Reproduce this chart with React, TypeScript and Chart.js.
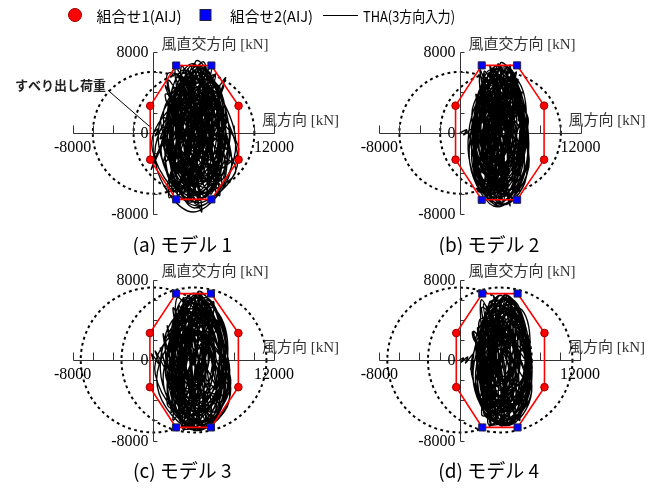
import React, { useEffect, useRef } from 'react';
import { Chart, registerables } from 'chart.js';
Chart.register(...registerables);

type Pt = [number, number];

// ---- axes ----
const X_MIN = -8000;
const X_MAX = 12000;
const Y_MIN = -8000;
const Y_MAX = 8000;
const TICK_STEP = 2000;
const xTickLabels = [-8000, 12000];
const yTickLabels = [8000, 0, -8000];

// ---- texts ----
const legendLabels = ['組合せ1(AIJ)', '組合せ2(AIJ)', 'THA(3方向入力)'];
const captions = ['(a) モデル 1', '(b) モデル 2', '(c) モデル 3', '(d) モデル 4'];
const xTitle = '風方向 [kN]';
const yTitle = '風直交方向 [kN]';
const slipText = 'すべり出し荷重';

// ---- slip-load circles (centre x on wind axis, radius) [kN] ----
const slipCentersTop = [0, 4050];
const slipRadiusTop = 6000;
const slipCentersBottom = [0, 4050];
const slipRadiusBottom = 7200;
// leader of the slip-load note (panel a): [start, end] in kN
const slipLeader: Pt[] = [[-4500, 4200], [-150, 450]];

// ---- 組合せ1 (AIJ): right-top, right-bottom, left-bottom, left-top ----
const comb1A: Pt[] = [[8480, 2660], [8480, -2640], [-300, -2640], [-300, 2660]];
const comb1B: Pt[] = [[8380, 2680], [8380, -2640], [-420, -2640], [-420, 2680]];
const comb1C: Pt[] = [[8460, 2680], [8460, -2700], [-330, -2700], [-330, 2680]];
const comb1D: Pt[] = [[8460, 2680], [8460, -2700], [-330, -2700], [-330, 2680]];
// ---- 組合せ2 (AIJ): top-left, top-right, bottom-right, bottom-left ----
const comb2A: Pt[] = [[2280, 6640], [5780, 6640], [5780, -6560], [2280, -6560]];
const comb2B: Pt[] = [[2180, 6650], [5700, 6650], [5700, -6600], [2180, -6600]];
const comb2C: Pt[] = [[2260, 6600], [5740, 6600], [5740, -6700], [2260, -6700]];
const comb2D: Pt[] = [[2260, 6600], [5780, 6600], [5780, -6700], [2260, -6700]];

// ---- THA (3方向入力) trajectories [kN] ----
const thaA: Pt[] = [
  [0, 0], [500, 400], [200, -300], [1100, 600], [700, -600], [2000, 900], [1500, -1200], [3000, 1800],
  [2200, -2500], [4200, 3000], [3100, -3600], [5200, 4200], [3800, -4800], [6000, 5000], [2600, -5200],
  [5400, 6100], [1800, -4600], [6500, 3800], [1000, -3000], [5800, 6500], [2400, -6200], [7000, 2600],
  [3200, -5800], [4600, 6800], [5200, -6400], [1500, 5200], [6800, -4200], [2100, 5900], [7600, -1800],
  [1200, 3800], [6200, -5600], [3400, 6300], [4400, -7000], [800, 1500], [7200, -3400], [2800, 5600],
  [5600, -5200], [1600, -2200], [6600, 4600], [3600, -6600], [4800, 5800], [-200, -3600], [5000, 7000],
  [4200, -5400], [2000, 4400], [8500, -1600], [3000, -4400], [5400, 5000], [1400, -5800], [7400, 1200],
  [2600, -3200], [4600, 6200], [5800, -6000], [1800, 2800], [7800, -2800], [3800, 4800], [4800, -7800],
  [2200, 6400], [6400, -4800], [1000, -1200], [6000, 3200], [3400, -6800], [5200, 6600], [2800, -4800],
  [7000, 4600], [1600, -6400], [4400, 5400], [5600, -3600], [2400, 3400], [8200, -3600], [3600, -5600],
  [3000, 6000], [6600, -6200], [1200, 4600], [5400, -1600], [4000, 6800], [2000, -5800], [7200, 5400],
  [3200, -2400], [4600, -6200], [2600, 2200], [6800, -5200], [3800, 5600], [5000, -4200], [1400, 5800],
  [7600, 600], [4200, -6600], [2800, 6600], [5800, -2200], [3400, 3800], [4000, -5000], [4800, 4200],
  [2200, -4000], [6200, 5800], [3000, -6000], [5600, 2000], [1800, -2800], [7000, -4400], [4400, 6000],
  [3600, -1800], [4200, 1000],
  [4200, 2000], [5200, 200], [3800, -1800], [2800, 0],
  [4400, 3800], [6000, -400], [3600, -3600], [2200, 600],
  [3800, 5600], [6600, 1200], [4600, -5200], [1600, -800],
  [4600, 6400], [7200, -1000], [3400, -6200], [1000, 1800],
  [3200, 5000], [1400, -1600], [4800, -5800], [6800, 800],
  [4000, 6800], [1800, 2400], [3000, -4400], [6200, -2400],
  [5400, 4800], [2600, 1000], [4200, -6600], [7600, -1800],
  [3600, 3000], [5000, -1200], [3200, -3000], [2400, 1400],
  [4800, 5800], [7000, 2000], [5200, -4600], [2000, -2400],
  [2800, 4600], [6400, 3600], [5600, -5600], [1400, -3800],
  [3000, 6200], [7800, -2600], [4000, -7800], [200, -2800],
  [2400, 2800], [4600, 1800], [4400, -2200], [3000, -1000],
  [5000, 4000], [6600, -2800], [3800, -5000], [1200, 400],
  [4200, 6000], [5800, 2200], [5000, -3800], [2600, -5400], [800, -1200],
  [3600, 4200], [6000, 5200], [7200, 600], [5400, -6200], [2200, -4200],
  [1800, 3600], [4400, 5200], [6800, -3400], [3600, -6800], [1600, -2000],
  [3400, 1600], [5200, 2600], [4800, -1600], [2800, -2400],
  [3800, 6600], [8200, -800], [4600, -7200], [-100, -1600],
  [2600, 3400], [5600, 4400], [6200, -1200], [4200, -4600], [2000, -1000],
  [3200, 4400], [4800, 3000], [5600, -2000], [3400, -3600], [1800, 400],
  [4400, 6600], [7400, 1400], [6400, -5000], [3000, -6000], [1200, -3200],
  [2200, 1200], [3600, 5400], [6200, 3000], [5800, -4200], [2600, -3200],
  [3800, 2400], [5400, 800], [4000, -2800], [2400, -200],
  [5000, 6400], [7000, -200], [4400, -6000], [1600, 1200],
  [3000, 3800], [4800, 1400], [3800, -4200], [2200, -2800],
  [4600, 4600], [8400, -2600], [5000, -6800], [2000, -5000], [600, 800],
  [3800, 5000], [6600, 2600], [6000, -3000], [3200, -5200], [1400, -400],
  [2800, 2000], [4400, 3400], [5200, -600], [3600, -2000],
  [4200, 7000], [6200, 4400], [7200, -4200], [4200, -7400], [2400, -4800], [1800, 2200],
  [3400, 5800], [5400, 5400], [6600, -600], [4800, -3400], [2800, -4000], [1000, -800],
  [3000, 2800], [5000, 3600], [5800, 1000], [4600, -4400], [3200, -6400], [1800, -3000],
  [2600, 4800], [4000, 4000], [4200, 1200],
];
const thaB: Pt[] = [
  [0, 0], [700, 300], [400, -200], [1200, 400], [900, -500], [1800, 800], [1500, -1400], [2600, 2400],
  [2000, -3000], [3600, 3800], [2800, -4400], [4600, 5000], [3400, -5600], [5400, 5800], [2400, -6000],
  [4200, 6400], [3000, -6600], [5000, 6700], [4200, -7000], [2000, 5600], [5800, -5200], [1800, -3800],
  [5600, 4200], [2600, -6400], [4800, 6200], [3600, -5200], [6200, 2600], [2200, -2400], [5200, 5600],
  [3200, -6800], [4000, 6600], [5400, -4800], [1600, 3800], [6000, -3000], [2800, 5800], [4400, -6200],
  [3000, 4400], [5000, -7200], [2400, 6000], [5800, -1400], [1400, 1600], [4600, -5800], [3400, 6200],
  [6700, 800], [2000, -4800], [5400, 4800], [3800, -6600], [2600, 2800], [6000, -4200], [3000, 6600],
  [4800, -3600], [1800, -5600], [5600, 6000], [3400, -4200], [6800, 1400], [2200, 4800], [4400, -6800],
  [3600, 5400], [5200, -6000], [1600, -1600], [4800, 6400], [2800, -5800], [6200, 4000], [3200, -3000],
  [4000, 5000], [5400, -6600], [2000, 2000], [4600, -4600], [3800, 6800], [2600, -6200], [5800, 5200],
  [3000, -1000], [4200, -6400], [2400, 4400], [6400, -2400], [3600, 3200], [4800, -5200], [2000, 6200],
  [5000, -2000], [3200, 5600], [4400, -3200], [2400, -5200], [5600, 3400], [3000, -6400], [4200, 6000],
  [3800, 1800], [4100, -800],
  [3800, 2200], [4800, 0], [3600, -2000], [2600, 200],
  [4000, 4000], [5600, -600], [3400, -3800], [2000, 800],
  [3600, 5800], [6000, 1400], [4400, -5400], [1600, -1000],
  [4400, 6400], [6600, -1200], [3200, -6400], [1200, 1800],
  [3000, 5200], [1600, -1800], [4600, -6000], [6400, 600],
  [3800, 6600], [2000, 2600], [2800, -4600], [5800, -2600],
  [5000, 5000], [2600, 800], [4000, -6800], [6800, -1600],
  [3400, 3200], [4800, -1200], [3000, -3200], [2200, 1600],
  [4600, 6000], [6400, 2200], [4800, -4800], [1800, -2600],
  [2600, 4600], [6000, 3800], [5200, -5800], [1600, -4000],
  [3000, 6200], [6900, -2600], [3800, -7300], [1000, -3000],
  [2400, 3000], [4400, 1800], [4200, -2400], [2800, -1000],
  [4800, 4200], [6200, -2800], [3600, -5200], [1400, 400],
  [4000, 6200], [5600, 2400], [4800, -4000], [2400, -5600], [1200, -1400],
  [3400, 4400], [5600, 5400], [6600, 800], [5000, -6400], [2000, -4400],
  [1800, 3800], [4200, 5400], [6400, -3600], [3400, -7000], [1600, -2200],
  [3200, 1800], [5000, 2800], [4600, -1800], [2600, -2600],
  [3600, 6600], [6800, -800], [4400, -7000], [1200, -1800],
  [2400, 3600], [5400, 4600], [5800, -1400], [4000, -4800], [1800, -1200],
  [3000, 4600], [4600, 3200], [5400, -2200], [3200, -3800], [1600, 600],
  [4200, 6600], [6600, 1800], [6000, -5200], [2800, -6200], [1400, -3400],
  [2000, 1400], [3400, 5600], [5800, 3200], [5400, -4400], [2400, -3400],
  [3600, 2600], [5200, 1000], [3800, -3000], [2200, -400],
  [4800, 6400], [6400, -200], [4200, -6200], [1600, 1400],
  [2800, 4000], [4600, 1600], [3600, -4400], [2000, -3000],
  [4400, 4800], [6800, -2800], [4800, -7000], [1800, -5200], [1000, 800],
  [3600, 5200], [6200, 2800], [5600, -3200], [3000, -5400], [1400, -600],
  [2600, 2200], [4200, 3600], [5000, -800], [3400, -2200],
  [4000, 6800], [5800, 4600], [6600, -4400], [4000, -7200], [2200, -5000], [1600, 2400],
  [3200, 6000], [5200, 5600], [6200, -800], [4600, -3600], [2600, -4200], [1200, -1000],
  [2800, 3000], [4800, 3800], [5400, 1200], [4400, -4600], [3000, -6600], [1600, -3200],
  [2400, 5000], [3800, 4200], [4000, 1000],
];
const thaC: Pt[] = [
  [0, 0], [-150, 600], [600, -400], [200, 900], [1200, -800], [700, 1200], [1600, -1600], [1000, 2600],
  [2400, -2800], [1400, 3400], [3200, -4200], [2200, 5000], [4200, -5400], [3000, 6200], [5200, -6200],
  [2400, -4000], [4800, 6600], [3600, -6800], [5800, 4800], [1800, -5200], [4400, 6700], [6200, -3800],
  [2000, 3600], [5400, -6400], [3000, 5800], [7200, -1200], [2600, -6000], [5000, 5600], [4000, -6600],
  [1600, 1800], [6600, -3000], [3400, 6400], [4600, -5800], [2200, -2000], [5600, 4000], [3000, -7000],
  [4200, 5200], [7600, -2600], [2800, 4400], [5200, -4800], [1800, -3400], [6000, 5800], [3600, -5000],
  [2400, 6200], [6800, -1800], [4000, 4600], [3200, -6400], [5400, 6000], [1400, -4400], [7300, -3800],
  [3800, -2200], [2600, 5400], [5800, -6600], [4400, 2800], [2000, -6000], [6400, 3400], [3000, -3600],
  [4800, 6500], [4200, -6900], [2200, 4000], [7000, -400], [3400, -5400], [5600, 5200], [1600, -1200],
  [6200, -5000], [3800, 6200], [2600, -4800], [5000, 3000], [4600, -6200], [3000, 2000], [6600, -4400],
  [2800, -6600], [4400, 5600], [5200, -2600], [3600, 4000], [4000, -4200], [2000, 5200], [5800, -5600],
  [2600, 1200], [6000, 4400], [3200, -5800], [4800, 1600], [3400, -1400], [4200, 400],
  [4000, 2200], [5000, 0], [4200, -2000], [3000, 200],
  [4600, 4200], [6200, -400], [3600, -3800], [2000, 800],
  [3600, 5800], [6800, 1000], [4800, -5400], [1800, -1000],
  [4400, 6600], [7200, -1400], [3200, -6400], [1200, 2200],
  [3400, 5200], [1600, -2000], [5000, -6000], [7000, 600],
  [4200, 6600], [2000, 2800], [2800, -4600], [6400, -2200],
  [5400, 5000], [2800, 1200], [4400, -6800], [7700, -2000],
  [3800, 3200], [5200, -1000], [3400, -3200], [2600, 1400],
  [5000, 5800], [7200, 2200], [5400, -4800], [2200, -2600],
  [2800, 4800], [6600, 3400], [5800, -5800], [1600, -3800],
  [3200, 6200], [7600, -3400], [4200, -7000], [400, -2600],
  [2600, 2800], [4800, 1800], [4600, -2400], [3200, -1200],
  [5200, 4000], [6800, -2600], [4000, -5200], [1400, 600],
  [4400, 6200], [6000, 2400], [5200, -4000], [2800, -5600], [1000, -1400],
  [3800, 4400], [6200, 5000], [7400, 400], [5600, -6400], [2400, -4400],
  [2000, 3800], [4600, 5400], [7000, -3800], [3800, -6800], [1800, -2200],
  [3600, 1800], [5400, 2800], [5000, -1800], [3000, -2600],
  [4000, 6400], [7600, -1000], [4800, -6900], [200, -1400],
  [2800, 3600], [5800, 4400], [6400, -1400], [4400, -4800], [2200, -1200],
  [3400, 4600], [5000, 3200], [5800, -2200], [3600, -3800], [2000, 400],
  [4600, 6600], [7200, 1600], [6600, -5000], [3200, -6200], [1400, -3400],
  [2400, 1400], [3800, 5600], [6400, 3000], [6000, -4200], [2800, -3400],
  [4000, 2600], [5600, 800], [4200, -3000], [2600, -200],
  [5200, 6200], [7400, -200], [4600, -6200], [1800, 1400],
  [3200, 4000], [5000, 1600], [4000, -4400], [2400, -3000],
  [4800, 4800], [7700, -2800], [5200, -6600], [2200, -5200], [800, 600],
  [4000, 5200], [6800, 2600], [6200, -3200], [3400, -5400], [1600, -600],
  [3000, 2200], [4600, 3600], [5400, -800], [3800, -2200],
  [4400, 6700], [6400, 4200], [7000, -4000], [4400, -7000], [2600, -5000], [2000, 2400],
  [3600, 6000], [5600, 5400], [6800, -800], [5000, -3600], [3000, -4200], [1200, -1000],
  [3200, 3000], [5200, 3800], [6000, 1000], [4800, -4600], [3400, -6600], [2000, -3200],
  [2800, 5000], [4200, 4200], [4400, 1000],
];
const thaD: Pt[] = [
  [0, 0], [400, 200], [200, -200], [800, 300], [600, -300], [1400, 600], [1100, -900], [2000, 1800],
  [1400, 2800], [2600, -2400], [1800, 3200], [3600, -3800], [2600, 4600], [4600, -5000], [3200, 5800],
  [5400, -5800], [2400, -5200], [4400, 6200], [3800, -6400], [6000, 4200], [2000, -4200], [5200, 6000],
  [3000, -6200], [6600, -1800], [2200, 5200], [5600, -5600], [3400, 6400], [4800, -4600], [1800, 1600],
  [6200, 3200], [3200, -6500], [4200, 5400], [5800, -3600], [2400, -3000], [5000, 6200], [3800, -5600],
  [2600, 3800], [7000, -2800], [3000, 5800], [4400, -6400], [1600, -2200], [5800, 5000], [3600, -4600],
  [2200, 6000], [6400, -4800], [4000, 3200], [2800, -5800], [5400, 4600], [4600, -6200], [2000, 4000],
  [7100, -600], [3200, -3400], [4800, 6400], [5400, -5000], [2400, 2400], [6000, -6000], [3400, 5000],
  [3000, -4800], [6600, 2400], [2800, -1800], [4200, -6300], [3600, 6000], [5600, -2400], [2200, -5400],
  [5000, 4000], [4400, -3800], [3200, 4800], [4800, -5400], [2400, 5600], [6200, -4200], [2800, -6200],
  [5600, 5600], [3000, 1000], [5000, -6400], [3800, 2200], [3600, -2600], [4200, 800],
  [1600, 1800], [1300, 2800], [2000, 1600],
  [4200, 2000], [5200, 0], [4000, -1800], [3000, 200],
  [4400, 3800], [6000, -600], [3800, -3600], [2400, 600],
  [4000, 5400], [6600, 1000], [4800, -5000], [2000, -1000],
  [4600, 6200], [7000, -1200], [3600, -6000], [1600, 1800],
  [3400, 5000], [2000, -1800], [5000, -5800], [6800, 600],
  [4200, 6400], [2200, 2600], [3200, -4400], [6400, -2400],
  [5400, 4800], [3000, 1000], [4400, -6400], [7200, -1800],
  [3800, 3000], [5200, -1200], [3600, -3000], [2800, 1400],
  [5000, 5600], [6800, 2000], [5400, -4600], [2400, -2400],
  [3000, 4600], [6400, 3400], [5800, -5400], [2000, -3600],
  [3400, 6000], [7200, -2600], [4200, -6500], [1400, -2400],
  [2800, 2800], [4800, 1800], [4800, -2200], [3400, -1000],
  [5200, 4000], [6800, -2600], [4200, -5000], [1800, 400],
  [4400, 6000], [6000, 2200], [5200, -3800], [3000, -5400], [1600, -1200],
  [3800, 4200], [6200, 5000], [7000, 600], [5600, -6200], [2600, -4200],
  [2200, 3600], [4600, 5200], [6800, -3400], [4000, -6400], [2000, -2000],
  [3600, 1600], [5400, 2600], [5000, -1600], [3200, -2400],
  [4000, 6400], [7200, -800], [4800, -6400], [1200, -1400],
  [3000, 3400], [5800, 4400], [6400, -1200], [4400, -4600], [2400, -1000],
  [3400, 4400], [5000, 3000], [5800, -2000], [3800, -3600], [2200, 400],
  [4600, 6400], [7000, 1400], [6400, -4800], [3400, -6000], [1800, -3200],
  [2600, 1200], [3800, 5400], [6400, 2800], [6000, -4000], [3000, -3200],
  [4000, 2400], [5600, 800], [4200, -2800], [2800, -200],
  [5200, 6000], [7000, -200], [4600, -6000], [2000, 1200],
  [3200, 3800], [5000, 1400], [4000, -4200], [2600, -2800],
  [4800, 4600], [7200, -2600], [5200, -6400], [2400, -5000], [1400, 600],
  [4000, 5000], [6600, 2400], [6200, -3000], [3600, -5200], [2000, -400],
  [3000, 2000], [4600, 3400], [5400, -600], [3800, -2000],
  [4400, 6400], [6200, 4000], [6800, -3800], [4400, -6500], [2800, -4800], [2200, 2200],
  [3600, 5800], [5600, 5200], [6600, -600], [5000, -3400], [3200, -4000], [1800, -800],
  [3200, 2800], [5200, 3600], [5800, 1000], [4800, -4400], [3600, -6200], [2200, -3000],
  [3000, 4800], [4200, 4000], [4400, 800],
];

type PanelCfg = {
  key: string;
  caption: string;
  comb1: Pt[];
  comb2: Pt[];
  tha: Pt[];
  slipCenters: number[];
  slipRadius: number;
  showSlipNote: boolean;
  box: { left: number; top: number; width: number; height: number };
  pad: { left: number; right: number; top: number; bottom: number };
};

const panels: PanelCfg[] = [
  {
    key: 'a', caption: captions[0], comb1: comb1A, comb2: comb2A, tha: thaA,
    slipCenters: slipCentersTop, slipRadius: slipRadiusTop, showSlipNote: true,
    box: { left: 0, top: 30, width: 340, height: 225 },
    pad: { left: 72.7, right: 66, top: 21.7, bottom: 41 },
  },
  {
    key: 'b', caption: captions[1], comb1: comb1B, comb2: comb2B, tha: thaB,
    slipCenters: slipCentersTop, slipRadius: slipRadiusTop, showSlipNote: false,
    box: { left: 340, top: 30, width: 317, height: 225 },
    pad: { left: 39.3, right: 76.5, top: 21.7, bottom: 41 },
  },
  {
    key: 'c', caption: captions[2], comb1: comb1C, comb2: comb2C, tha: thaC,
    slipCenters: slipCentersBottom, slipRadius: slipRadiusBottom, showSlipNote: false,
    box: { left: 0, top: 255, width: 340, height: 235 },
    pad: { left: 72.7, right: 66, top: 24.5, bottom: 49.5 },
  },
  {
    key: 'd', caption: captions[3], comb1: comb1D, comb2: comb2D, tha: thaD,
    slipCenters: slipCentersBottom, slipRadius: slipRadiusBottom, showSlipNote: false,
    box: { left: 340, top: 255, width: 317, height: 235 },
    pad: { left: 39.3, right: 77, top: 24.5, bottom: 49.5 },
  },
];

const toXY = (pts: Pt[]) => pts.map(([x, y]) => ({ x, y }));

function octagon(c1: Pt[], c2: Pt[]): Pt[] {
  return [c2[0], c2[1], c1[0], c1[1], c2[2], c2[3], c1[2], c1[3], c2[0]];
}

const SERIF = '"Liberation Serif", "Times New Roman", "Noto Sans CJK JP", serif';
const GOTHIC = '"Noto Sans CJK JP", "Noto Sans", sans-serif';

function makePanelPlugin(p: PanelCfg) {
  return {
    id: 'panelDecor_' + p.key,
    beforeDatasetsDraw(chart: any) {
      const { ctx, chartArea } = chart;
      const xs = chart.scales.x;
      const ys = chart.scales.y;
      const px = (v: number) => xs.getPixelForValue(v);
      const py = (v: number) => ys.getPixelForValue(v);
      ctx.save();

      // slip-load circles
      ctx.strokeStyle = '#000';
      ctx.lineWidth = 2;
      ctx.setLineDash([2.8, 3.4]);
      for (const c of p.slipCenters) {
        const cx = px(c);
        const cy = py(0);
        const rx = Math.abs(px(c + p.slipRadius) - cx);
        const ry = Math.abs(py(p.slipRadius) - cy);
        ctx.beginPath();
        ctx.ellipse(cx, cy, rx, ry, 0, 0, Math.PI * 2);
        ctx.stroke();
      }
      ctx.setLineDash([]);

      // axes
      const x0 = Math.round(px(0)) + 0.5;
      const y0 = Math.round(py(0)) + 0.5;
      ctx.strokeStyle = '#333';
      ctx.lineWidth = 1;
      ctx.beginPath();
      ctx.moveTo(Math.round(px(X_MIN)) + 0.5, y0);
      ctx.lineTo(Math.round(px(X_MAX)) + 0.5, y0);
      for (let v = X_MIN; v <= X_MAX; v += TICK_STEP) {
        const tx = Math.round(px(v)) + 0.5;
        ctx.moveTo(tx, y0);
        ctx.lineTo(tx, y0 - 8);
      }
      ctx.moveTo(x0, Math.round(py(Y_MAX)) + 0.5);
      ctx.lineTo(x0, Math.round(py(Y_MIN)) + 0.5);
      for (let v = Y_MIN; v <= Y_MAX; v += TICK_STEP) {
        const ty = Math.round(py(v)) + 0.5;
        ctx.moveTo(x0, ty);
        ctx.lineTo(x0 + 4, ty);
      }
      ctx.stroke();

      // tick labels
      ctx.fillStyle = '#000';
      ctx.font = '16px ' + SERIF;
      ctx.textBaseline = 'middle';
      ctx.textAlign = 'right';
      for (const v of yTickLabels) ctx.fillText(String(v), x0 - 5, py(v) + 1);
      ctx.textAlign = 'center';
      for (const v of xTickLabels) ctx.fillText(String(v), px(v), y0 + 14);

      // axis titles
      ctx.fillStyle = '#333';
      ctx.font = '15px ' + SERIF;
      ctx.textAlign = 'left';
      ctx.fillText(yTitle, x0 + 8, chartArea.top - 7);
      ctx.fillText(xTitle, chartArea.right - 12, y0 - 12);

      // slip-load note
      if (p.showSlipNote) {
        const sx = px(slipLeader[0][0]);
        const sy = py(slipLeader[0][1]);
        ctx.strokeStyle = '#000';
        ctx.lineWidth = 1;
        ctx.beginPath();
        ctx.moveTo(sx, sy);
        ctx.lineTo(px(slipLeader[1][0]), py(slipLeader[1][1]));
        ctx.stroke();
        ctx.fillStyle = '#222';
        ctx.font = 'bold 13px ' + GOTHIC;
        ctx.textAlign = 'right';
        ctx.fillText(slipText, sx - 2, sy - 5);
      }
      ctx.restore();
    },
    afterDraw(chart: any) {
      const { ctx, chartArea } = chart;
      ctx.save();
      ctx.fillStyle = '#000';
      ctx.font = '19px ' + GOTHIC;
      ctx.textAlign = 'center';
      ctx.textBaseline = 'middle';
      ctx.fillText(p.caption, (chartArea.left + chartArea.right) / 2 + 9, chartArea.bottom + 30.5);
      ctx.restore();
    },
  };
}

function Panel({ p }: { p: PanelCfg }) {
  const ref = useRef<HTMLCanvasElement>(null);
  useEffect(() => {
    const chart = new Chart(ref.current!, {
      type: 'scatter',
      data: {
        datasets: [
          {
            label: legendLabels[1],
            data: toXY(p.comb2),
            pointStyle: 'rect',
            pointRadius: 5,
            backgroundColor: '#0000ff',
            borderColor: '#222244',
            borderWidth: 1,
            order: 0,
          },
          {
            label: legendLabels[0],
            data: toXY(p.comb1),
            pointStyle: 'circle',
            pointRadius: 3.8,
            backgroundColor: '#ff0000',
            borderColor: '#990000',
            borderWidth: 1,
            order: 1,
          },
          {
            label: 'envelope',
            data: toXY(octagon(p.comb1, p.comb2)),
            showLine: true,
            borderColor: '#ff0000',
            borderWidth: 1.6,
            pointRadius: 0,
            tension: 0,
            order: 2,
          },
          {
            label: legendLabels[2],
            data: toXY(p.tha),
            showLine: true,
            borderColor: '#000000',
            borderWidth: 1.35,
            pointRadius: 0,
            tension: 0.4,
            clip: false,
            order: 3,
          },
        ],
      } as any,
      options: {
        responsive: false,
        animation: false,
        events: [],
        layout: { padding: p.pad },
        plugins: { legend: { display: false }, tooltip: { enabled: false }, title: { display: false } },
        scales: {
          x: { type: 'linear', min: X_MIN, max: X_MAX, display: false },
          y: { type: 'linear', min: Y_MIN, max: Y_MAX, display: false },
        },
      },
      plugins: [makePanelPlugin(p)],
    });
    return () => chart.destroy();
  }, []);
  const b = p.box;
  return (
    <canvas
      ref={ref}
      width={b.width}
      height={b.height}
      style={{ position: 'absolute', left: b.left, top: b.top, width: b.width, height: b.height }}
    />
  );
}

// legend layout (pixels)
const legendMarkerX = [75, 205.5, 340.5];
const legendTextX = [96.5, 230, 363];
const legendTextW = [87, 83, 92];

const legendPlugin = {
  id: 'customLegend',
  afterDraw(chart: any) {
    const { ctx } = chart;
    const ds = chart.data.datasets;
    const cy = 15;
    ctx.save();
    ctx.beginPath();
    ctx.arc(legendMarkerX[0], cy, 6.5, 0, Math.PI * 2);
    ctx.fillStyle = ds[0].backgroundColor;
    ctx.fill();
    ctx.strokeStyle = ds[0].borderColor;
    ctx.lineWidth = 1;
    ctx.stroke();
    ctx.fillStyle = ds[1].backgroundColor;
    ctx.fillRect(legendMarkerX[1] - 5.5, cy - 5.5, 11, 11);
    ctx.strokeStyle = ds[1].borderColor;
    ctx.strokeRect(legendMarkerX[1] - 5.5, cy - 5.5, 11, 11);
    ctx.strokeStyle = ds[2].borderColor;
    ctx.beginPath();
    ctx.moveTo(legendMarkerX[2] - 17.5, cy + 0.5);
    ctx.lineTo(legendMarkerX[2] + 17.5, cy + 0.5);
    ctx.stroke();
    ctx.fillStyle = '#000';
    ctx.font = '15px ' + GOTHIC;
    ctx.textAlign = 'left';
    ctx.textBaseline = 'middle';
    ds.forEach((d: any, i: number) => ctx.fillText(d.label, legendTextX[i], cy + 1, legendTextW[i]));
    ctx.restore();
  },
};

function Legend() {
  const ref = useRef<HTMLCanvasElement>(null);
  useEffect(() => {
    const chart = new Chart(ref.current!, {
      type: 'scatter',
      data: {
        datasets: [
          { label: legendLabels[0], data: [], backgroundColor: '#ff0000', borderColor: '#990000' },
          { label: legendLabels[1], data: [], backgroundColor: '#0000ff', borderColor: '#222244' },
          { label: legendLabels[2], data: [], backgroundColor: '#000000', borderColor: '#000000' },
        ],
      },
      options: {
        responsive: false,
        animation: false,
        events: [],
        plugins: { legend: { display: false }, tooltip: { enabled: false } },
        scales: { x: { display: false }, y: { display: false } },
      },
      plugins: [legendPlugin],
    });
    return () => chart.destroy();
  }, []);
  return (
    <canvas ref={ref} width={657} height={30} style={{ position: 'absolute', left: 0, top: 0, width: 657, height: 30 }} />
  );
}

export default function App() {
  return (
    <div style={{ position: 'absolute', left: 0, top: 0, width: 657, height: 490, background: '#fff', overflow: 'hidden' }}>
      <Legend />
      {panels.map((p) => (
        <Panel key={p.key} p={p} />
      ))}
    </div>
  );
}
